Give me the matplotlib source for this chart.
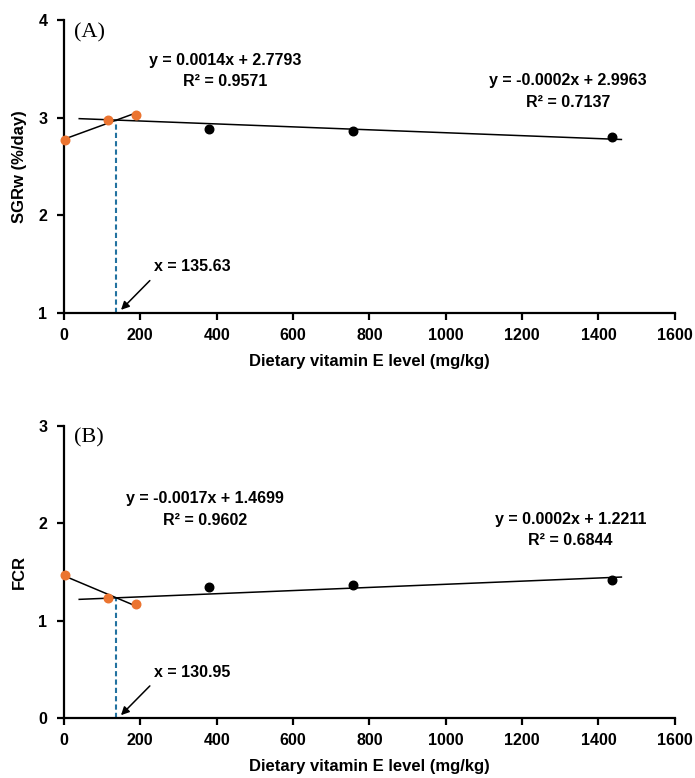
import numpy as np
import matplotlib
matplotlib.use('Agg')
import matplotlib.pyplot as plt
import matplotlib as mpl

mpl.rcParams.update({'font.size': 11, 'font.family': ['Liberation Sans', 'DejaVu Sans'],
                     'font.weight': 'bold'})

# dietary vitamin E levels (mg/kg)
dose = np.array([3, 116, 190, 381, 757, 1436])
sgr = np.array([2.77, 2.98, 3.03, 2.88, 2.86, 2.80])
fcr = np.array([1.47, 1.23, 1.17, 1.34, 1.36, 1.42])
n_low = 3  # first (orange) points fitted by the first segment

# equation labels
sgr_eq1 = 'y = 0.0014x + 2.7793\nR² = 0.9571'
sgr_eq2 = 'y = -0.0002x + 2.9963\nR² = 0.7137'
sgr_bp_lab = 'x = 135.63'
fcr_eq1 = 'y = -0.0017x + 1.4699\nR² = 0.9602'
fcr_eq2 = 'y = 0.0002x + 1.2211\nR² = 0.6844'
fcr_bp_lab = 'x = 130.95'

orange = '#EB7430'
dash_col = '#2272A0'

fig = plt.figure(figsize=(6.95, 7.78), dpi=100)
ax1 = fig.add_axes([0.092, 0.598, 0.879, 0.376])
ax2 = fig.add_axes([0.092, 0.077, 0.879, 0.376])


def draw_panel(ax, y, ylim, yticks, ylabel, tag, eq1, eq1_xy, eq2, eq2_xy, bplab, bplab_xy):
    # segment 1: orange points, segment 2: all but the first point
    p1 = np.polyfit(dose[:n_low], y[:n_low], 1)
    p2 = np.polyfit(dose[1:], y[1:], 1)
    xs1 = np.array([dose[0], dose[n_low-1]])
    xs2 = np.array([40, 1460])
    ax.plot(xs1, np.polyval(p1, xs1), color='black', lw=1.1, zorder=2)
    ax.plot(xs2, np.polyval(p2, xs2), color='black', lw=1.1, zorder=2)
    ax.scatter(dose[:n_low], y[:n_low], s=38, color=orange, zorder=3, clip_on=False)
    ax.scatter(dose[n_low:], y[n_low:], s=38, color='black', zorder=3, clip_on=False)

    bp = (p2[1] - p1[1]) / (p1[0] - p2[0])
    ax.plot([bp, bp], [ylim[0], np.polyval(p1, bp)], ls=(0, (2.5, 1.5)), color=dash_col,
            lw=1.5, zorder=1)

    ax.set_xlim(0, 1600)
    ax.set_ylim(*ylim)
    ax.set_xticks(np.arange(0, 1601, 200))
    ax.set_yticks(yticks)
    ax.spines['top'].set_visible(False)
    ax.spines['right'].set_visible(False)
    ax.spines['left'].set_linewidth(1.6)
    ax.spines['bottom'].set_linewidth(1.6)
    ax.tick_params(direction='out', width=1.6, length=5, labelsize=11.5)
    ax.tick_params(axis='x', pad=6)
    ax.tick_params(axis='y', pad=7)
    ax.set_xlabel('Dietary vitamin E level (mg/kg)', fontsize=12, fontweight='bold', labelpad=8)
    ax.set_ylabel(ylabel, fontsize=12, fontweight='bold', labelpad=8)
    ax.text(0.016, 0.99, tag, transform=ax.transAxes, family='Liberation Serif',
            fontweight='normal', fontsize=16, va='top', ha='left')
    ax.text(eq1_xy[0], eq1_xy[1], eq1, ha='center', va='center', fontsize=11.5, linespacing=1.55)
    ax.text(eq2_xy[0], eq2_xy[1], eq2, ha='center', va='center', fontsize=11.5, linespacing=1.55)
    ax.text(bplab_xy[0], bplab_xy[1], bplab, ha='left', va='center', fontsize=11.5)
    ax.annotate('', xy=(bp + 12, ylim[0] + 0.03), xytext=(225, ylim[0] + 0.33),
                arrowprops=dict(arrowstyle='-|>', color='black', lw=1.1,
                                mutation_scale=12, shrinkA=0, shrinkB=0))


draw_panel(ax1, sgr, (1, 4), [1, 2, 3, 4], 'SGRw (%/day)', '(A)',
           sgr_eq1, (423, 3.48), sgr_eq2, (1320, 3.27), sgr_bp_lab, (235, 1.47))
draw_panel(ax2, fcr, (0, 3), [0, 1, 2, 3], 'FCR', '(B)',
           fcr_eq1, (370, 2.14), fcr_eq2, (1327, 1.93), fcr_bp_lab, (235, 0.47))

fig.savefig('out.png', dpi=100)
